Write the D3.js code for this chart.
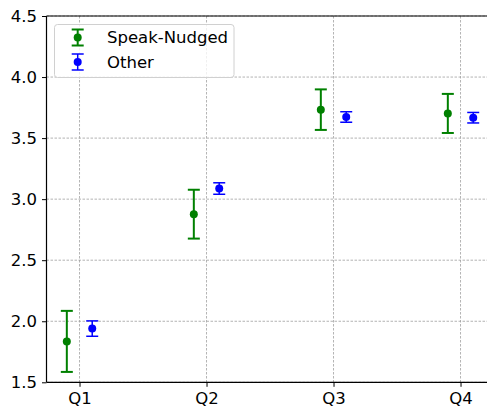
<!DOCTYPE html>
<html>
<head>
<meta charset="utf-8">
<script src="https://cdn.jsdelivr.net/npm/d3@7"></script>
<style>
  body { margin: 0; background: #fff; }
  svg { display: block; font-family: "DejaVu Sans", sans-serif; }
</style>
</head>
<body>
<svg width="487" height="407"></svg>
<script>
// values
let quarters = ['Q1', 'Q2', 'Q3', 'Q4']
let nudgedMean = [1.835, 2.877, 3.733, 3.702]
let nudgedErr = [0.25, 0.2, 0.166, 0.16]
let otherMean = [1.94, 3.087, 3.673, 3.667]
let otherErr = [0.063, 0.047, 0.043, 0.043]
let yTicks = [1.5, 2.0, 2.5, 3.0, 3.5, 4.0, 4.5]

let series = [
  { name: 'Speak-Nudged', color: 'green', offset: -0.1, mean: nudgedMean, err: nudgedErr, width: 2 },
  { name: 'Other', color: 'blue', offset: 0.1, mean: otherMean, err: otherErr, width: 1.5 }
]

let plotLeft = 46.5, plotTop = 16, plotBottom = 382.3
let svg = d3.select('svg')

let x = d3.scaleLinear().domain([-0.26, 3.26]).range([plotLeft, plotLeft + 3.52 * 127])
let y = d3.scaleLinear().domain([1.5, 4.5]).range([plotBottom, plotTop])

// grid
let grid = svg.append('g').attr('class', 'grid')
grid.selectAll('line.gx').data(quarters).enter().append('line')
  .attr('x1', (d, i) => x(i)).attr('x2', (d, i) => x(i))
  .attr('y1', plotTop).attr('y2', plotBottom)
grid.selectAll('line.gy').data(yTicks).enter().append('line')
  .attr('x1', plotLeft).attr('x2', 487)
  .attr('y1', d => y(d)).attr('y2', d => y(d))
grid.selectAll('line')
  .attr('stroke', '#a0a0a0').attr('stroke-width', 0.8)
  .attr('stroke-dasharray', '2.5,1.5')

// axes
let yAxis = svg.append('g')
  .attr('transform', `translate(${plotLeft},0)`)
  .call(d3.axisLeft(y).tickValues(yTicks).tickFormat(d3.format('.1f')).tickSize(4.5).tickPadding(5))
let xAxis = svg.append('g')
  .attr('transform', `translate(0,${plotBottom})`)
  .call(d3.axisBottom(x).tickValues([0, 1, 2, 3]).tickFormat(i => quarters[i]).tickSize(4.5).tickPadding(5))

;[yAxis, xAxis].forEach(function (a) {
  a.select('.domain').remove()
  a.selectAll('.tick line').attr('stroke', '#000').attr('stroke-width', 1)
  a.selectAll('text').attr('font-size', 16.5).attr('fill', '#000')
    .attr('font-family', '"DejaVu Sans", sans-serif')
})

// spines (right one falls outside the picture)
svg.append('line').attr('x1', plotLeft).attr('x2', plotLeft).attr('y1', plotTop).attr('y2', plotBottom)
  .attr('stroke', '#000').attr('stroke-width', 1.2)
svg.append('line').attr('x1', plotLeft).attr('x2', 487).attr('y1', plotTop).attr('y2', plotTop)
  .attr('stroke', '#000').attr('stroke-width', 1.2)
svg.append('line').attr('x1', plotLeft).attr('x2', 487).attr('y1', plotBottom).attr('y2', plotBottom)
  .attr('stroke', '#000').attr('stroke-width', 1.2)

// error bars
function drawErrorbar(g, cx, cy, yTop, yBot, s) {
  g.append('line').attr('x1', cx).attr('x2', cx).attr('y1', yTop).attr('y2', yBot)
    .attr('stroke', s.color).attr('stroke-width', s.width)
  ;[yTop, yBot].forEach(function (cap) {
    g.append('line').attr('x1', cx - 6).attr('x2', cx + 6).attr('y1', cap).attr('y2', cap)
      .attr('stroke', s.color).attr('stroke-width', s.width)
  })
  g.append('circle').attr('cx', cx).attr('cy', cy).attr('r', 4).attr('fill', s.color)
}

series.forEach(function (s) {
  let g = svg.append('g')
  s.mean.forEach(function (m, i) {
    drawErrorbar(g, x(i + s.offset), y(m), y(m + s.err[i]), y(m - s.err[i]), s)
  })
})

// legend
let legend = svg.append('g')
legend.append('rect')
  .attr('x', 54.5).attr('y', 24.5).attr('width', 179.5).attr('height', 53)
  .attr('rx', 3).attr('fill', '#fff').attr('fill-opacity', 0.8)
  .attr('stroke', '#d0d0d0').attr('stroke-width', 1)
series.forEach(function (s, i) {
  let cy = 37.5 + i * 24.5
  drawErrorbar(legend, 77.7, cy, cy - 8, cy + 8, s)
  legend.append('text')
    .attr('x', 107).attr('y', cy).attr('dy', '0.35em')
    .attr('font-size', 16.5).attr('fill', '#000')
    .text(s.name)
})
</script>
</body>
</html>
